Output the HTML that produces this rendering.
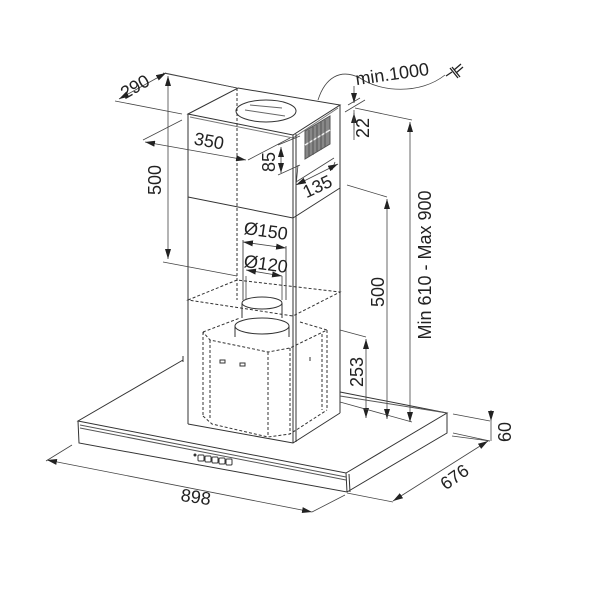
<!DOCTYPE html>
<html><head><style>
html,body{margin:0;padding:0;background:#fff;}
svg{display:block;}
text{font-family:"Liberation Sans",sans-serif;fill:#222;font-size:18px;}
</style></head><body>
<svg width="600" height="600" viewBox="0 0 600 600" xmlns="http://www.w3.org/2000/svg">
<defs>
<marker id="a" viewBox="0 0 10 6" refX="10" refY="3" markerWidth="10" markerHeight="6" orient="auto-start-reverse" markerUnits="userSpaceOnUse"><path d="M0,0L10,3L0,6z" fill="#222"/></marker>
</defs>
<g stroke="#333" stroke-width="1" fill="none">
<!-- chimney top face -->
<path d="M188,114 L238,88 L340,105 L293,135 Z" fill="#fff"/>
<path d="M190,117 L293,138 L338,108" stroke="#777"/>
<ellipse cx="266" cy="111" rx="30" ry="11"/>
<path d="M245,110 L285,116 M250,105 L282,108" stroke="#666"/>
<!-- chimney edges -->
<path d="M188,114 L188,424 M293,135 L293,443 M296,134 L296,442 M340,105 L340,413"/>
<path d="M188,197 L293,218 L340,188"/>
<path d="M188,424 L293,443 L340,413"/>
<!-- vent grille -->
<polygon points="305,131 330,116 330,144 305,159" fill="#888" stroke="#555"/>
<path d="M305,145 L330,130" stroke="#eee" stroke-width="1.5"/>
<path d="M309,130 L309,157 M313,127 L313,155 M317,125 L317,152 M321,122 L321,150 M325,120 L325,147" stroke="#555"/>
<!-- dashed center -->
<path d="M237,88 L237,300" stroke-dasharray="3,2"/>
<!-- dashed transition box -->
<path d="M188,300 L237,280 L340,292 L293,316 Z" stroke-dasharray="3,2"/>
<!-- duct lines -->
<path d="M243,240 L243,300 M286,246 L286,300" stroke="#555"/>
<!-- cylinder -->
<ellipse cx="262" cy="303" rx="20" ry="6"/>
<path d="M242,303 L242,318 M282,303 L282,318"/>
<ellipse cx="262" cy="326" rx="27" ry="8"/>
<path d="M235,326 L235,337 M289,326 L289,337"/>
<!-- motor box dashed -->
<g stroke-dasharray="3,2">
<path d="M203,332 L240,318 M300,322 L327,330 L290,348 L268,352 L210,340 L203,332"/>
<path d="M203,332 L203,416 M210,340 L210,420 M268,352 L268,436 M290,348 L290,434 M327,330 L327,410 M322,334 L322,410"/>
<path d="M203,416 L212,424 L268,437 L290,434 L327,410"/>
</g>
<path d="M220,360 h5 v3 h-5z M240,363 h5 v3 h-5z M310,357 v4" stroke="#333"/>
<!-- canopy -->
<path d="M183,360 L78,421 L346,473 L447,413 L340,392" fill="none"/>
<path d="M183,356 L183,362 M340,392 L340,413 M293,443 L293,430"/>
<path d="M78,421 L79,443 L347,492 L447,433 L447,413"/>
<path d="M80,425 L346,477 M80,428 L346,480" stroke="#555"/>
<path d="M346,473 L347,492 M349,474 L350,492"/>
<path d="M340,396 L447,413" stroke="#555"/>
<!-- buttons -->
<g stroke="#333"><rect x="198" y="455" width="6" height="6" rx="1"/><rect x="205" y="456" width="6" height="6" rx="1"/><rect x="212" y="457" width="6" height="6" rx="1"/><rect x="219" y="458" width="6" height="6" rx="1"/><rect x="226" y="459" width="6" height="6" rx="1"/></g>
<circle cx="195" cy="455" r="1" fill="#333"/>
</g>
<!-- dimension lines -->
<g stroke="#444" stroke-width="0.8" fill="none">
<path d="M115,101 L182,114 M165,73 L237,88"/>
<path d="M119,99 L166,73" marker-start="url(#a)" marker-end="url(#a)"/>
<path d="M163,73 L237,88 M163,262 L237,276"/>
<path d="M168,76 L168,259" marker-start="url(#a)" marker-end="url(#a)"/>
<path d="M143,140 L182,120 M248,160 L290,138"/>
<path d="M145,142 L246,160" marker-start="url(#a)" marker-end="url(#a)"/>
<path d="M278,145 L300,136 M278,175 L300,165"/>
<path d="M281,147 L281,173" marker-start="url(#a)" marker-end="url(#a)"/>
<path d="M296,182 L334,158 M296,186 L298,165 M335,162 L332,170"/>
<path d="M296,185 L338,164" marker-start="url(#a)" marker-end="url(#a)"/>
<path d="M348,105 L360,98 M345,112 L365,100"/>
<path d="M354,86 L354,103" marker-end="url(#a)"/>
<path d="M354,130 L354,113" marker-end="url(#a)"/>
<path d="M354,110 L354,140"/>
<path d="M355,108 L412,120"/>
<path d="M410,122 L410,422" marker-start="url(#a)" marker-end="url(#a)"/>
<path d="M347,185 L387,197"/>
<path d="M387,199 L387,419" marker-start="url(#a)" marker-end="url(#a)"/>
<path d="M340,330 L366,337"/>
<path d="M366,339 L366,418" marker-start="url(#a)" marker-end="url(#a)"/>
<path d="M340,402 L412,422"/>
<path d="M243,242 L286,248" marker-start="url(#a)" marker-end="url(#a)"/>
<path d="M246,270 L282,276" marker-start="url(#a)" marker-end="url(#a)"/>
<path d="M246,276 L246,300 M282,276 L282,300"/>
<path d="M453,414 L490,421 M453,433 L490,441"/>
<path d="M491,410 L491,421" marker-end="url(#a)"/>
<path d="M491,421 L491,441"/>
<path d="M347,493 L393,502 M452,436 L490,441"/>
<path d="M393,501 L488,441" marker-start="url(#a)" marker-end="url(#a)"/>
<path d="M72,445 L46,461 M312,512 L345,495"/>
<path d="M47,460 L312,512" marker-start="url(#a)" marker-end="url(#a)"/>
<path d="M318,100 C325,78 340,68 360,78 C380,92 420,95 445,75"/>
</g>
<!-- plug -->
<g stroke="#222" stroke-width="1.3" fill="none">
<path d="M446,76 L452,72"/>
<path d="M450,68 L458,78 M452,67 L460,77" />
<path d="M454,70 L461,64 M456,73 L463,67"/>
</g>
<!-- labels -->
<text transform="translate(138,92) rotate(-30)" text-anchor="middle">290</text>
<text transform="translate(208,147) rotate(10)" text-anchor="middle">350</text>
<text transform="translate(161,180) rotate(-90)" text-anchor="middle">500</text>
<text transform="translate(275,162) rotate(-90)" text-anchor="middle">85</text>
<text transform="translate(320,192) rotate(-25)" text-anchor="middle">135</text>
<text transform="translate(369,128) rotate(-90)" text-anchor="middle">22</text>
<text transform="translate(393,80) rotate(-8)" text-anchor="middle">min.1000</text>
<text transform="translate(431,265) rotate(-90)" text-anchor="middle">Min 610 - Max 900</text>
<text transform="translate(384,292) rotate(-90)" text-anchor="middle">500</text>
<text transform="translate(265,237) rotate(8)" text-anchor="middle">Ø150</text>
<text transform="translate(265,270) rotate(8)" text-anchor="middle">Ø120</text>
<text transform="translate(363,372) rotate(-90)" text-anchor="middle">253</text>
<text transform="translate(511,432) rotate(-90)" text-anchor="middle">60</text>
<text transform="translate(458,482) rotate(-35)" text-anchor="middle">676</text>
<text transform="translate(195,503) rotate(8)" text-anchor="middle">898</text>
</svg>
</body></html>
